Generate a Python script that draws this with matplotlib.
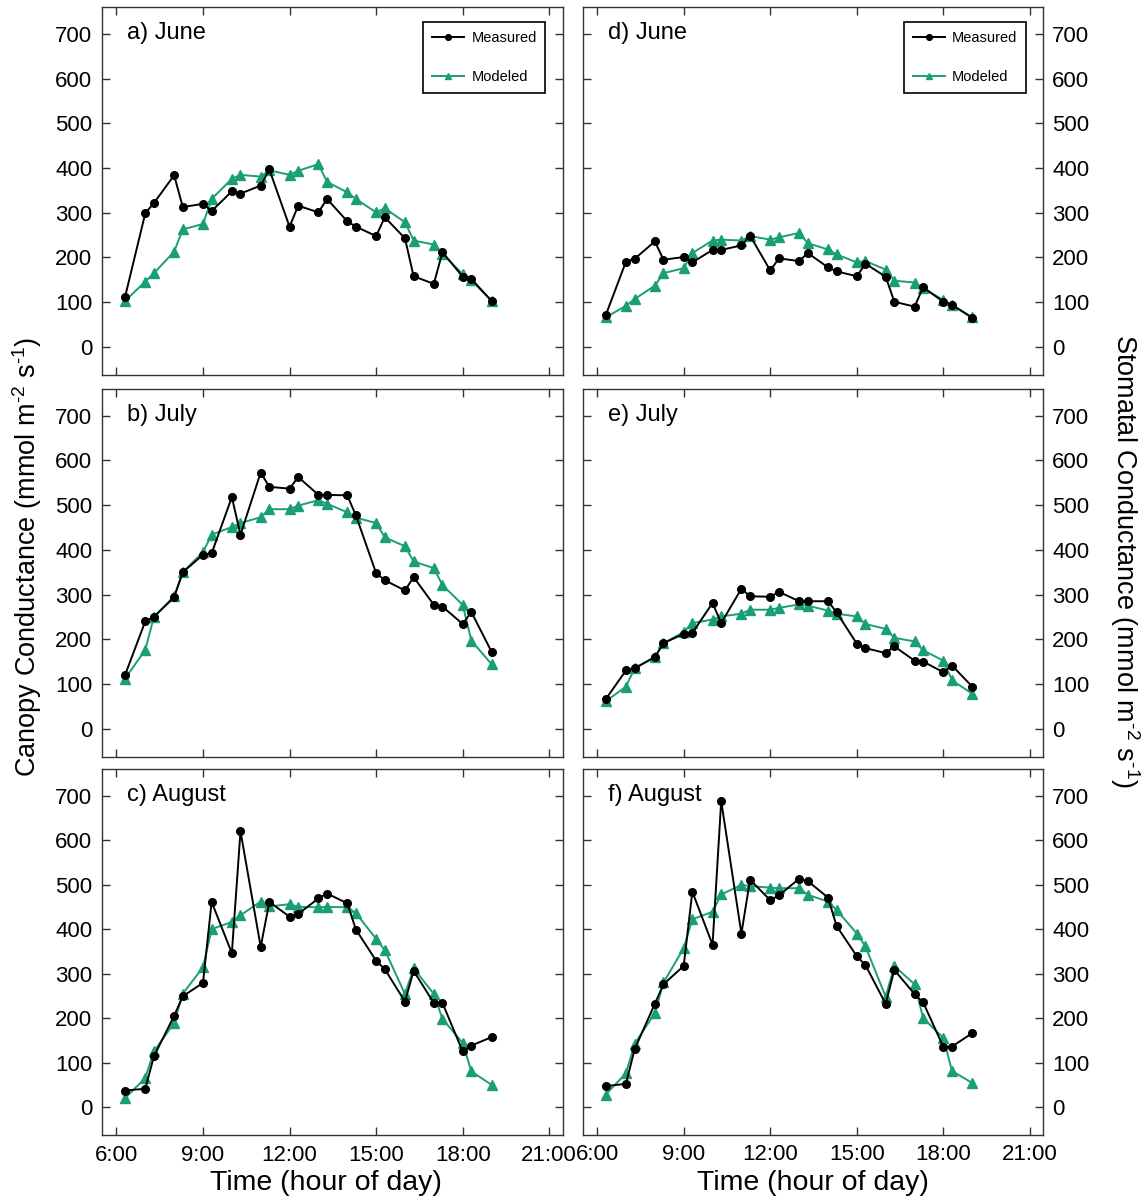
import matplotlib
matplotlib.use("Agg")
import matplotlib.pyplot as plt
from matplotlib.ticker import FixedLocator

plt.rcParams['font.family'] = ['Liberation Sans', 'DejaVu Sans']
plt.rcParams['mathtext.fontset'] = 'custom'
plt.rcParams['mathtext.rm'] = 'Liberation Sans'
plt.rcParams['mathtext.it'] = 'Liberation Sans:italic'
plt.rcParams['mathtext.bf'] = 'Liberation Sans:bold'

# ---- data ----
hours = [6.3, 7.0, 7.3, 8.0, 8.3, 9.0, 9.3, 10.0, 10.3, 11.0, 11.3, 12.0, 12.3,
         13.0, 13.3, 14.0, 14.3, 15.0, 15.3, 16.0, 16.3, 17.0, 17.3, 18.0, 18.3, 19.0]

canopy_jun_meas = [112, 299, 322, 384, 313, 320, 304, 348, 343, 361, 397, 269, 316,
                   301, 331, 281, 269, 248, 290, 243, 158, 141, 212, 157, 152, 103]
canopy_jun_mod = [103, 146, 165, 213, 263, 275, 331, 376, 385, 381, 395, 385, 394,
                  409, 369, 346, 331, 301, 310, 279, 238, 229, 208, 163, 149, 103]
canopy_jul_meas = [120, 240, 250, 294, 350, 389, 392, 518, 434, 573, 541, 537, 563,
                   523, 523, 522, 477, 348, 332, 309, 339, 277, 273, 234, 261, 172]
canopy_jul_mod = [112, 176, 250, 296, 350, 395, 434, 451, 460, 473, 491, 491, 499,
                  511, 503, 484, 472, 460, 428, 408, 374, 359, 321, 277, 197, 144]
canopy_aug_meas = [37, 41, 114, 205, 249, 279, 461, 346, 620, 360, 461, 428, 434,
                   469, 480, 458, 399, 329, 310, 237, 306, 234, 234, 125, 138, 157]
canopy_aug_mod = [20, 65, 125, 189, 255, 314, 400, 416, 431, 462, 451, 456, 450,
                  449, 450, 449, 436, 378, 353, 254, 312, 254, 198, 144, 80, 50]

stom_jun_meas = [71, 191, 197, 236, 195, 201, 189, 217, 217, 227, 249, 171, 198,
                 192, 210, 178, 169, 158, 186, 157, 101, 90, 133, 101, 94, 65]
stom_jun_mod = [66, 92, 107, 137, 165, 176, 210, 238, 240, 238, 248, 240, 245,
                255, 232, 218, 207, 189, 192, 173, 148, 144, 131, 105, 94, 66]
stom_jul_meas = [66, 130, 135, 160, 191, 212, 214, 281, 236, 313, 296, 295, 306,
                 285, 285, 285, 260, 190, 180, 169, 184, 152, 150, 126, 141, 94]
stom_jul_mod = [61, 94, 135, 160, 191, 216, 236, 244, 251, 257, 266, 266, 270,
                278, 275, 264, 257, 251, 234, 223, 203, 195, 175, 152, 108, 78]
stom_aug_meas = [47, 52, 130, 232, 276, 317, 484, 365, 688, 390, 511, 465, 476,
                 513, 508, 471, 407, 339, 319, 232, 308, 254, 235, 135, 136, 166]
stom_aug_mod = [28, 76, 142, 211, 280, 357, 422, 439, 478, 499, 497, 493, 492,
                492, 477, 462, 443, 390, 361, 248, 317, 276, 200, 155, 81, 54]

panel_labels = ["a) June", "b) July", "c) August", "d) June", "e) July", "f) August"]
x_ticks = [6, 9, 12, 15, 18, 21]
x_ticklabels = ["6:00", "9:00", "12:00", "15:00", "18:00", "21:00"]
y_ticks = [0, 100, 200, 300, 400, 500, 600, 700]

left_data = [(canopy_jun_meas, canopy_jun_mod), (canopy_jul_meas, canopy_jul_mod),
             (canopy_aug_meas, canopy_aug_mod)]
right_data = [(stom_jun_meas, stom_jun_mod), (stom_jul_meas, stom_jul_mod),
              (stom_aug_meas, stom_aug_mod)]

GREEN = '#1a9e77'
W, H = 1148, 1200
fig = plt.figure(figsize=(W / 100, H / 100), dpi=100)

col_left = [102, 582.7]
col_w = 460.5
row_top = [7.3, 389, 769]
row_h = [367.7, 367.7, 366.0]

for c in range(2):
    for r in range(3):
        left = col_left[c] / W
        bottom = 1 - (row_top[r] + row_h[r]) / H
        ax = fig.add_axes([left, bottom, col_w / W, row_h[r] / H])
        meas, mod = (left_data if c == 0 else right_data)[r]
        ax.plot(hours, meas, '-o', color='black', lw=1.4, ms=5.5,
                label='Measured', zorder=3)
        ax.plot(hours, mod, '-^', color=GREEN, lw=1.4, ms=6.5,
                label='Modeled', zorder=2)
        ax.set_xlim(5.5, 21.46)
        ax.set_ylim(-63, 760)
        ax.xaxis.set_major_locator(FixedLocator(x_ticks))
        ax.yaxis.set_major_locator(FixedLocator(y_ticks))
        ax.tick_params(direction='in', top=True, right=True, length=5.5,
                       width=1.0, color='#333333', labelsize=16, pad=7)
        if r == 2:
            ax.set_xticklabels(x_ticklabels)
        else:
            ax.tick_params(labelbottom=False)
        if c == 1:
            ax.tick_params(labelleft=False, labelright=True, pad=6.5)
        for s in ax.spines.values():
            s.set_color('#333333')
            s.set_linewidth(1.0)
        ax.text(0.055, 0.93, panel_labels[c * 3 + r], transform=ax.transAxes,
                fontsize=17, va='center', ha='left')
        if r == 0:
            leg = ax.legend(loc='upper right', bbox_to_anchor=(0.963, 0.96),
                            borderaxespad=0, fontsize=10.5, fancybox=False,
                            edgecolor='black', framealpha=1, handlelength=2.2,
                            handletextpad=0.5, labelspacing=1.75, borderpad=0.6,
                            markerscale=0.75)
            leg.get_frame().set_linewidth(1.2)

fig.text(27 / W, 1 - 557 / H, r"Canopy Conductance (mmol m$^{\text{-2}}$ s$^{\text{-1}}$)",
         rotation=90, fontsize=19.5, ha='center', va='center')
fig.text(1125 / W, 1 - 561 / H, r"Stomatal Conductance (mmol m$^{\text{-2}}$ s$^{\text{-1}}$)",
         rotation=270, fontsize=19.5, ha='center', va='center')
fig.text(326 / W, 1 - 1183 / H, "Time (hour of day)", fontsize=20.5,
         ha='center', va='center')
fig.text(813 / W, 1 - 1183 / H, "Time (hour of day)", fontsize=20.5,
         ha='center', va='center')

fig.savefig("out.png", dpi=100)
